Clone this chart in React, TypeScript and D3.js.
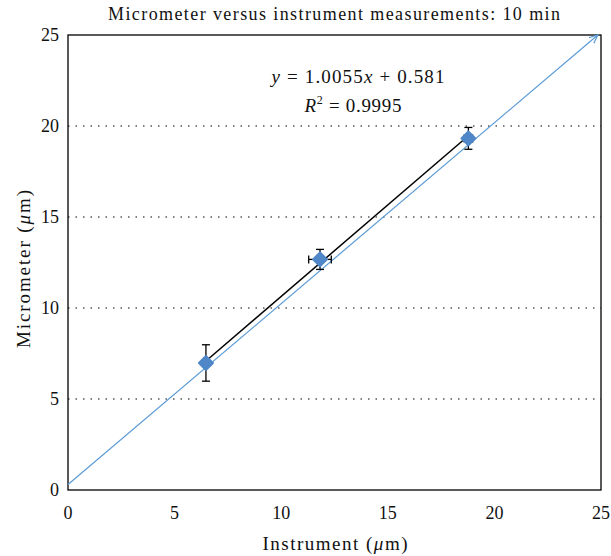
import React from "react";
import * as d3 from "d3";

const instrument = [6.47, 11.82, 18.78];
const micrometer = [6.98, 12.67, 19.32];
const xErr = [0, 0.53, 0.2];
const yErr = [1.0, 0.55, 0.6];
const ticks = [0, 5, 10, 15, 20, 25];
const gridValues = [5, 10, 15, 20];
const slope = 1.0055;
const intercept = 0.581;
const refLine = [[0, 0.3], [24.85, 25]];

const W = 611, H = 556;
const M = { left: 68, right: 10, top: 35, bottom: 66 };

export default function App() {
  const x = d3.scaleLinear().domain([0, 25]).range([M.left, W - M.right]);
  const y = d3.scaleLinear().domain([0, 25]).range([H - M.bottom, M.top]);
  const font = "'Liberation Serif', 'Times New Roman', serif";
  const blue = "#5b9bd5";
  const marker = "#4f87c8";
  const line = d3.line<number[]>().x(d => x(d[0])).y(d => y(d[1]));
  const x0 = instrument[0], x1 = instrument[instrument.length - 1];
  const trend = [[x0, slope * x0 + intercept], [x1, slope * x1 + intercept]];
  const cap = 4;
  return (
    <svg width={W} height={H} style={{ position: "absolute", left: 0, top: 0 }} fontFamily={font} fill="#111">
      <defs>
        <marker id="arr" viewBox="0 0 10 10" refX="9" refY="5" markerWidth="8" markerHeight="8" orient="auto">
          <path d="M0,1 L9,5 L0,9" fill="none" stroke={blue} strokeWidth={1.3} />
        </marker>
      </defs>
      <rect width={W} height={H} fill="#fff" />
      {gridValues.map(v => (
        <line key={v} x1={x(0)} x2={x(25)} y1={y(v)} y2={y(v)} stroke="#000" strokeWidth={1} strokeDasharray="1.5,6" />
      ))}
      <rect x={x(0)} y={y(25)} width={x(25) - x(0)} height={y(0) - y(25)} fill="none" stroke="#000" strokeWidth={1.3} />
      <path d={line(refLine as any) || ""} stroke={blue} strokeWidth={1.2} fill="none" markerEnd="url(#arr)" />
      <path d={line(trend as any) || ""} stroke="#000" strokeWidth={1.5} fill="none" />
      {instrument.map((xv, i) => {
        const yv = micrometer[i];
        const cx = x(xv), cy = y(yv);
        return (
          <g key={i} stroke="#000" strokeWidth={1.3}>
            <line x1={cx} x2={cx} y1={y(yv - yErr[i])} y2={y(yv + yErr[i])} />
            <line x1={cx - cap} x2={cx + cap} y1={y(yv - yErr[i])} y2={y(yv - yErr[i])} />
            <line x1={cx - cap} x2={cx + cap} y1={y(yv + yErr[i])} y2={y(yv + yErr[i])} />
            {xErr[i] > 0 && (
              <>
                <line x1={x(xv - xErr[i])} x2={x(xv + xErr[i])} y1={cy} y2={cy} />
                <line x1={x(xv - xErr[i])} x2={x(xv - xErr[i])} y1={cy - cap} y2={cy + cap} />
                <line x1={x(xv + xErr[i])} x2={x(xv + xErr[i])} y1={cy - cap} y2={cy + cap} />
              </>
            )}
          </g>
        );
      })}
      {instrument.map((xv, i) => {
        const cx = x(xv), cy = y(micrometer[i]);
        const s = 7;
        return (
          <path key={"m" + i} d={`M${cx},${cy - s} L${cx + s},${cy} L${cx},${cy + s} L${cx - s},${cy} Z`}
            fill={marker} stroke={marker} strokeWidth={2} strokeLinejoin="round" />
        );
      })}
      {ticks.map(t => (
        <text key={"y" + t} x={x(0) - 9} y={y(t)} dy="0.35em" textAnchor="end" fontSize={18}>{t}</text>
      ))}
      {ticks.map(t => (
        <text key={"x" + t} x={x(t)} y={y(0) + 29} textAnchor="middle" fontSize={18}>{t}</text>
      ))}
      <text x={334} y={20} textAnchor="middle" fontSize={18} textLength={452} lengthAdjust="spacing">Micrometer versus instrument measurements: 10 min</text>
      <text x={335} y={550} textAnchor="middle" fontSize={19} textLength={145} lengthAdjust="spacing">Instrument (<tspan fontStyle="italic">μ</tspan>m)</text>
      <text transform={`translate(30,269) rotate(-90)`} textAnchor="middle" fontSize={19} textLength={158} lengthAdjust="spacing">Micrometer (<tspan fontStyle="italic">μ</tspan>m)</text>
      <text x={358} y={83} textAnchor="middle" fontSize={19} textLength={173} lengthAdjust="spacing">
        <tspan fontStyle="italic">y</tspan> = 1.0055<tspan fontStyle="italic">x</tspan> + 0.581
      </text>
      <text x={353} y={112} textAnchor="middle" fontSize={19} textLength={97} lengthAdjust="spacing">
        <tspan fontStyle="italic">R</tspan><tspan fontSize={12} dy={-8}>2</tspan><tspan dy={8}> = 0.9995</tspan>
      </text>
    </svg>
  );
}
